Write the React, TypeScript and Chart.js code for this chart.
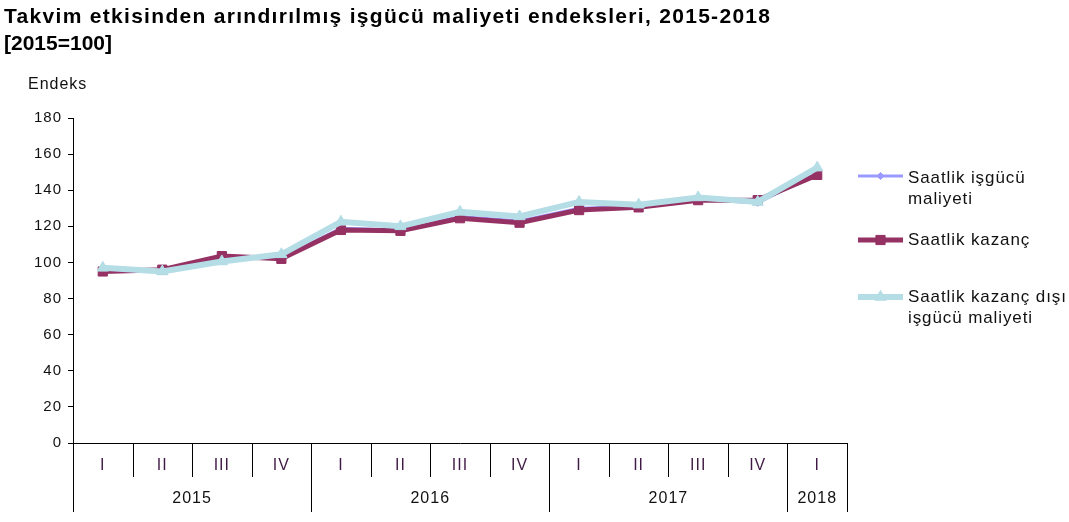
import React, { useEffect, useRef } from 'react';
import { Chart, registerables } from 'chart.js';

Chart.register(...registerables);

// ---- data ----
const quarters = ['I', 'II', 'III', 'IV', 'I', 'II', 'III', 'IV', 'I', 'II', 'III', 'IV', 'I'];
const years = ['2015', '2016', '2017', '2018'];
const yearSpans = [4, 4, 4, 1];
const laborCost = [95.5, 95, 102.5, 102.5, 119, 118, 125.5, 123, 130, 131, 135, 133, 149.5];
const earnings = [95, 96, 103.5, 102, 118, 117.5, 124.5, 122, 129, 130.5, 134.5, 134.5, 148.5];
const nonWage = [97, 95, 100.5, 104.5, 122.5, 120, 128, 125.5, 133.5, 132, 136, 133.5, 152.5];
const seriesNames = ['Saatlik işgücü maliyeti', 'Saatlik kazanç', 'Saatlik kazanç dışı işgücü maliyeti'];
const legendLines = [['Saatlik işgücü', 'maliyeti'], ['Saatlik kazanç'], ['Saatlik kazanç dışı', 'işgücü maliyeti']];
const titleLines = ['Takvim etkisinden arındırılmış işgücü maliyeti endeksleri, 2015-2018', '[2015=100]'];
const yAxisTitle = 'Endeks';
const yTicks = { min: 0, max: 180, step: 20 };

const FONT = '"Liberation Sans", Arial, sans-serif';
const colors = ['#9999ff', '#953163', '#b4dde6'];
const widths = [3, 5, 6];
const styles = ['rectRot', 'rect', 'triangle'];
const radii = [3.5, 6.5, 6.5];

function marker(ctx: CanvasRenderingContext2D, style: string, r: number, x: number, y: number) {
  ctx.beginPath();
  if (style === 'rect') {
    const s = r * Math.SQRT2;
    ctx.rect(x - s / 2, y - s / 2, s, s);
  } else if (style === 'rectRot') {
    ctx.moveTo(x, y - r);
    ctx.lineTo(x + r, y);
    ctx.lineTo(x, y + r);
    ctx.lineTo(x - r, y);
    ctx.closePath();
  } else {
    ctx.moveTo(x, y - r);
    ctx.lineTo(x + r * 0.87, y + r / 2);
    ctx.lineTo(x - r * 0.87, y + r / 2);
    ctx.closePath();
  }
  ctx.fill();
  ctx.stroke();
}

const overlay = {
  id: 'overlay',
  beforeDraw(chart: any) {
    chart.ctx.letterSpacing = '1px';
  },
  afterDraw(chart: any) {
    const ctx = chart.ctx as CanvasRenderingContext2D;
    const xs = chart.scales.x;
    const ca = chart.chartArea;
    const n = quarters.length;
    const bound = (i: number) =>
      i === 0 ? xs.left : i === n ? xs.right : (xs.getPixelForValue(i - 1) + xs.getPixelForValue(i)) / 2;
    const yb = new Set<number>();
    let acc = 0;
    yb.add(0);
    yearSpans.forEach((s) => { acc += s; yb.add(acc); });

    ctx.save();
    ctx.strokeStyle = '#000';
    ctx.lineWidth = 1;
    ctx.beginPath();
    for (let i = 0; i <= n; i++) {
      const px = Math.round(bound(i)) + 0.5;
      ctx.moveTo(px, ca.bottom);
      ctx.lineTo(px, ca.bottom + (yb.has(i) ? 69 : 34));
    }
    ctx.stroke();

    ctx.letterSpacing = '1px';
    ctx.font = `16px ${FONT}`;
    ctx.fillStyle = '#111';
    ctx.textAlign = 'center';
    ctx.textBaseline = 'middle';
    let start = 0;
    years.forEach((y, k) => {
      const end = start + yearSpans[k];
      ctx.fillText(y, (bound(start) + bound(end)) / 2, ca.bottom + 56);
      start = end;
    });

    ctx.textAlign = 'left';
    ctx.textBaseline = 'alphabetic';
    ctx.fillText(yAxisTitle, 28, 89);

    ctx.fillStyle = '#000';
    ctx.font = `bold 21px ${FONT}`;
    ctx.letterSpacing = '1.3px';
    ctx.fillText(titleLines[0], 4, 23);
    ctx.letterSpacing = '0px';
    ctx.fillText(titleLines[1], 4, 50);

    const lineY = [176, 240, 297];
    const textY = [178, 240, 297];
    const lx0 = ca.right + 11;
    const lx1 = ca.right + 56;
    const tx = ca.right + 61;
    ctx.font = `17px ${FONT}`;
    ctx.letterSpacing = '0.9px';
    ctx.textBaseline = 'middle';
    for (let i = 0; i < 3; i++) {
      ctx.strokeStyle = colors[i];
      ctx.fillStyle = colors[i];
      ctx.lineWidth = widths[i];
      ctx.beginPath();
      ctx.moveTo(lx0, lineY[i]);
      ctx.lineTo(lx1, lineY[i]);
      ctx.stroke();
      ctx.lineWidth = 1;
      marker(ctx, styles[i], radii[i], (lx0 + lx1) / 2, lineY[i]);
      ctx.fillStyle = '#111';
      legendLines[i].forEach((t, j) => ctx.fillText(t, tx, textY[i] + j * 21));
    }
    ctx.restore();
    ctx.letterSpacing = '0px';
  },
};

export default function App() {
  const ref = useRef<HTMLCanvasElement | null>(null);
  useEffect(() => {
    document.body.style.margin = '0';
    if (!ref.current) return;
    const mk = (i: number, data: number[], order: number) => ({
      label: seriesNames[i],
      data,
      borderColor: colors[i],
      backgroundColor: colors[i],
      pointBackgroundColor: colors[i],
      pointBorderColor: colors[i],
      borderWidth: widths[i],
      pointStyle: styles[i],
      pointRadius: radii[i],
      pointBorderWidth: 1,
      tension: 0,
      order,
    });
    const chart = new Chart(ref.current, {
      type: 'line',
      data: {
        labels: quarters,
        datasets: [mk(0, laborCost, 2), mk(1, earnings, 1), mk(2, nonWage, 0)] as any,
      },
      options: {
        animation: false,
        responsive: true,
        maintainAspectRatio: false,
        layout: { padding: { top: 118, right: 222, left: 0, bottom: 0 } },
        plugins: { legend: { display: false }, title: { display: false }, tooltip: { enabled: false } },
        scales: {
          x: {
            type: 'category',
            offset: true,
            grid: { display: true, drawOnChartArea: false, drawTicks: false },
            border: { color: '#000', width: 1 },
            ticks: {
              autoSkip: false,
              maxRotation: 0,
              padding: 13,
              color: '#3f1a45',
              font: { family: FONT, size: 16 },
            },
            afterFit: (s: any) => { s.height = 79; },
          },
          y: {
            min: yTicks.min,
            max: yTicks.max,
            ticks: { stepSize: yTicks.step, padding: 6, color: '#111', font: { family: FONT, size: 15 } },
            grid: { drawOnChartArea: false, drawTicks: true, tickLength: 5, color: '#000' },
            border: { color: '#000', width: 1 },
            afterFit: (s: any) => { s.width = 73; },
          },
        },
      } as any,
      plugins: [overlay],
    });
    return () => chart.destroy();
  }, []);
  return (
    <div style={{ position: 'relative', width: 1069, height: 522 }}>
      <canvas ref={ref} />
    </div>
  );
}
